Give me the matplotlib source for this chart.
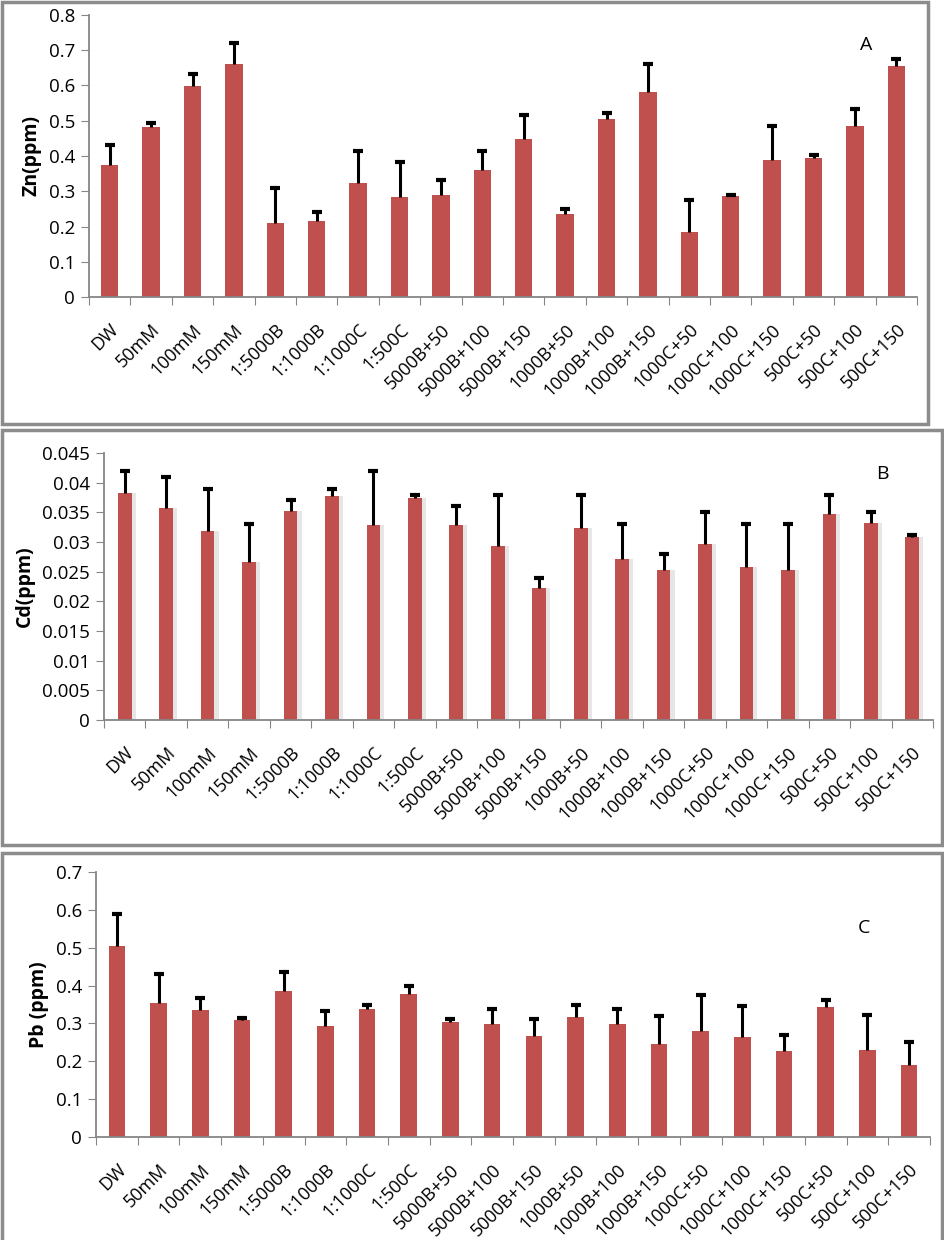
import numpy as np
import matplotlib
matplotlib.use("Agg")
import matplotlib.pyplot as plt
from matplotlib.patches import Rectangle
from matplotlib.ticker import FuncFormatter

treatments = ["DW", "50mM", "100mM", "150mM", "1:5000B", "1:1000B", "1:1000C",
              "1:500C", "5000B+50", "5000B+100", "5000B+150", "1000B+50",
              "1000B+100", "1000B+150", "1000C+50", "1000C+100", "1000C+150",
              "500C+50", "500C+100", "500C+150"]

zn = [0.374, 0.483, 0.599, 0.662, 0.211, 0.217, 0.322, 0.284, 0.290, 0.360,
      0.448, 0.236, 0.506, 0.582, 0.184, 0.287, 0.388, 0.394, 0.486, 0.654]
zn_top = [0.430, 0.495, 0.633, 0.720, 0.310, 0.241, 0.415, 0.384, 0.332, 0.415,
          0.517, 0.250, 0.523, 0.660, 0.275, 0.290, 0.486, 0.402, 0.532, 0.676]

cd = [0.0383, 0.0358, 0.0318, 0.0267, 0.0353, 0.0378, 0.0328, 0.0374, 0.0328, 0.0293,
      0.0222, 0.0323, 0.0271, 0.0253, 0.0297, 0.0258, 0.0253, 0.0348, 0.0332, 0.0309]
cd_top = [0.0420, 0.0410, 0.0390, 0.0330, 0.0370, 0.0390, 0.0420, 0.0380, 0.0360, 0.0380,
          0.0240, 0.0380, 0.0330, 0.0280, 0.0350, 0.0330, 0.0330, 0.0380, 0.0350, 0.0312]

pb = [0.505, 0.354, 0.335, 0.310, 0.385, 0.292, 0.337, 0.377, 0.304, 0.299,
      0.268, 0.317, 0.298, 0.245, 0.280, 0.264, 0.226, 0.343, 0.229, 0.190]
pb_top = [0.588, 0.430, 0.367, 0.314, 0.437, 0.334, 0.349, 0.398, 0.311, 0.337,
          0.311, 0.349, 0.337, 0.320, 0.375, 0.347, 0.270, 0.361, 0.323, 0.250]

W, H = 944, 1240
BAR = "#C0504D"
AXC = "#868686"


def px_rect(left, top, right, bottom):
    return [left / W, 1 - bottom / H, (right - left) / W, (bottom - top) / H]


def panel(fig, rect, vals, tops, ylab, ymax, step, letter, letter_xy, width, shadow=False):
    ax = fig.add_axes(rect)
    x = np.arange(len(vals))
    vals = np.array(vals)
    err = np.array(tops) - vals
    if shadow:
        ax.bar(x + 0.07, vals, width=width + 0.06, color="#e6e6e6", zorder=1)
    ax.bar(x, vals, width=width, color=BAR, zorder=2)
    eb = ax.errorbar(x, vals, yerr=[np.zeros_like(err), err], fmt="none", ecolor="black",
                     elinewidth=2.2, capsize=3.5, capthick=3, zorder=3)
    # only the upper cap, like the original
    eb[1][0].set_visible(False)
    ax.set_xlim(-0.5, len(vals) - 0.5)
    ax.set_ylim(0, ymax)
    ax.set_yticks(np.arange(0, ymax + step / 2, step))
    ax.yaxis.set_major_formatter(FuncFormatter(lambda v, p: "%g" % round(v, 4)))
    ax.set_xticks(np.arange(-0.5, len(vals), 1.0))
    ax.set_xticklabels([])
    ax.set_xticks(x, minor=True)
    ax.set_xticklabels(treatments, minor=True, rotation=45, ha="right",
                       rotation_mode="anchor", fontsize=13)
    ax.tick_params(axis="x", which="minor", length=0, pad=17)
    ax.tick_params(axis="x", which="major", length=6, color=AXC, direction="out")
    ax.tick_params(axis="y", length=6, color=AXC, labelsize=13.5, pad=4)
    for s in ["top", "right"]:
        ax.spines[s].set_visible(False)
    for s in ["left", "bottom"]:
        ax.spines[s].set_color(AXC)
        ax.spines[s].set_linewidth(1.3)
    ax.set_ylabel(ylab, fontsize=14, fontweight="bold", labelpad=5)
    fig.text(letter_xy[0] / W, 1 - letter_xy[1] / H, letter, fontsize=14,
             ha="center", va="center")
    return ax


def main():
    plt.rcParams["font.family"] = ["Open Sans", "DejaVu Sans"]
    fig = plt.figure(figsize=(W / 100, H / 100), dpi=100)

    # panel borders
    for (l, t, r, b) in [(2, 2, 928, 424), (2, 430, 942, 845), (2, 853, 942, 1250)]:
        fig.patches.append(Rectangle((l / W, 1 - b / H), (r - l) / W, (b - t) / H,
                                     transform=fig.transFigure, fill=False,
                                     edgecolor="#8c8c8c", linewidth=2.5))

    panel(fig, px_rect(89, 15, 917, 297), zn, zn_top, "Zn(ppm)", 0.8, 0.1,
          "A", (866, 45), 0.42)
    panel(fig, px_rect(104, 453, 933, 720), cd, cd_top, "Cd(ppm)", 0.045, 0.005,
          "B", (882, 474), 0.33, shadow=True)
    panel(fig, px_rect(96, 872, 930, 1137), pb, pb_top, "Pb (ppm)", 0.7, 0.1,
          "C", (864, 928), 0.40)

    fig.savefig("out.png", dpi=100)


if __name__ == "__main__":
    main()
